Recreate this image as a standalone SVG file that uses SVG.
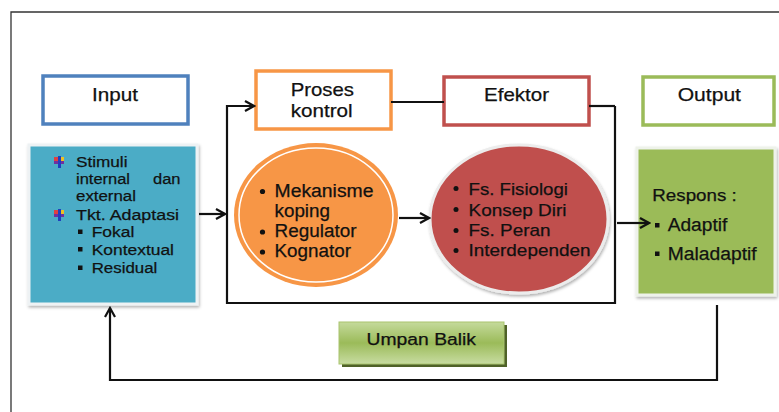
<svg xmlns="http://www.w3.org/2000/svg" width="779" height="412" viewBox="0 0 779 412">
<defs>
<style>
text{font-family:"Liberation Sans",Arial,sans-serif;fill:#111;stroke:#111;stroke-width:0.25}
.hdr{fill:#fff;stroke-width:3.5}
.t19{font-size:19px}
.t15{font-size:15.5px}
.t18{font-size:18px}
.t17{font-size:17px}
.t16{font-size:16px}
.conn{fill:none;stroke:#111;stroke-width:2.2}
</style>
<marker id="arr" markerWidth="12" markerHeight="12" refX="10" refY="6" orient="auto" markerUnits="userSpaceOnUse">
<path d="M1,1 L10,6 L1,11" fill="none" stroke="#111" stroke-width="2.2"/>
</marker>
<linearGradient id="gbtn" x1="0" y1="0" x2="0" y2="1">
<stop offset="0" stop-color="#c5da9c"/>
<stop offset="0.5" stop-color="#9bbb59"/>
<stop offset="1" stop-color="#c8dca2"/>
</linearGradient>
<filter id="sh" x="-10%" y="-10%" width="130%" height="130%">
<feDropShadow dx="1" dy="2" stdDeviation="1.5" flood-color="#000" flood-opacity="0.3"/>
</filter>
<g id="ico">
<rect x="-5" y="-1" width="10" height="3" fill="#7030a0"/>
<rect x="-1" y="-6" width="3" height="12" fill="#1f3fbf"/>
<rect x="-5" y="-5" width="4" height="4" fill="#e04040"/>
<rect x="2" y="-5" width="3" height="4" fill="#f0c020"/>
</g>
</defs>
<rect width="779" height="412" fill="#fff"/>
<path d="M11,412 V12 H779" fill="none" stroke="#333" stroke-width="1.3"/>

<g id="input">
<rect class="hdr" x="43" y="76" width="145" height="48" stroke="#4f81bd"/>
<text class="t19" x="92" y="101" textLength="46" lengthAdjust="spacingAndGlyphs">Input</text>
</g>

<g id="proses-kontrol">
<rect class="hdr" x="256" y="71" width="135" height="58" stroke="#f79646"/>
<text class="t19" x="290.7" y="95.7" textLength="63.3" lengthAdjust="spacingAndGlyphs">Proses</text>
<text class="t19" x="290.7" y="116.7" textLength="62" lengthAdjust="spacingAndGlyphs">kontrol</text>
</g>

<g id="efektor">
<rect class="hdr" x="444" y="77" width="145" height="48" stroke="#c0504d"/>
<text class="t19" x="484" y="100.7" textLength="65" lengthAdjust="spacingAndGlyphs">Efektor</text>
</g>

<g id="output">
<rect class="hdr" x="643" y="77" width="131" height="48" stroke="#9bbb59"/>
<text class="t19" x="677.7" y="100.7" textLength="63.3" lengthAdjust="spacingAndGlyphs">Output</text>
</g>

<g id="input-panel">
<rect x="29" y="145" width="168" height="159" fill="#4bacc6" stroke="#eef2f4" stroke-width="3" filter="url(#sh)"/>
<use href="#ico" x="59" y="162"/>
<text class="t15" x="76" y="167" textLength="51.5" lengthAdjust="spacingAndGlyphs">Stimuli</text>
<text class="t15" x="76" y="184" textLength="54" lengthAdjust="spacingAndGlyphs">internal</text>
<text class="t15" x="153" y="184" textLength="27.5" lengthAdjust="spacingAndGlyphs">dan</text>
<text class="t15" x="76" y="201" textLength="60" lengthAdjust="spacingAndGlyphs">external</text>
<use href="#ico" x="59" y="215"/>
<text class="t15" x="76" y="219.5" textLength="103" lengthAdjust="spacingAndGlyphs">Tkt. Adaptasi</text>
<rect x="78" y="229.5" width="4.5" height="4.5" fill="#111"/>
<text class="t15" x="91.7" y="237.3" textLength="42.6" lengthAdjust="spacingAndGlyphs">Fokal</text>
<rect x="78" y="247" width="4.5" height="4.5" fill="#111"/>
<text class="t15" x="91.7" y="254.7" textLength="82.3" lengthAdjust="spacingAndGlyphs">Kontextual</text>
<rect x="78" y="265.5" width="4.5" height="4.5" fill="#111"/>
<text class="t15" x="91.7" y="273.3" textLength="65.6" lengthAdjust="spacingAndGlyphs">Residual</text>
</g>

<g id="mekanisme">
<ellipse cx="316" cy="215" rx="82" ry="72" fill="#f79646"/>
<ellipse cx="316" cy="215" rx="77" ry="67" fill="none" stroke="#fff" stroke-width="1.5"/>
<circle cx="262.5" cy="191.5" r="2.6" fill="#111"/>
<text class="t18" x="274.5" y="196.7" textLength="99" lengthAdjust="spacingAndGlyphs">Mekanisme</text>
<text class="t18" x="274.5" y="216.5" textLength="55.5" lengthAdjust="spacingAndGlyphs">koping</text>
<circle cx="262.5" cy="232" r="2.6" fill="#111"/>
<text class="t18" x="274.5" y="237" textLength="82" lengthAdjust="spacingAndGlyphs">Regulator</text>
<circle cx="262.5" cy="252" r="2.6" fill="#111"/>
<text class="t18" x="274.5" y="257" textLength="76.5" lengthAdjust="spacingAndGlyphs">Kognator</text>
</g>

<g id="fungsi">
<ellipse cx="519" cy="219" rx="89" ry="74" fill="#c0504d" stroke="#ececec" stroke-width="3" filter="url(#sh)"/>
<circle cx="456" cy="188.5" r="2.5" fill="#111"/>
<text class="t17" x="468.5" y="195" textLength="99.5" lengthAdjust="spacingAndGlyphs">Fs. Fisiologi</text>
<circle cx="456" cy="209.5" r="2.5" fill="#111"/>
<text class="t17" x="468.5" y="215.5" textLength="98" lengthAdjust="spacingAndGlyphs">Konsep Diri</text>
<circle cx="456" cy="230.5" r="2.5" fill="#111"/>
<text class="t17" x="468.5" y="236" textLength="82" lengthAdjust="spacingAndGlyphs">Fs. Peran</text>
<circle cx="456" cy="250.5" r="2.5" fill="#111"/>
<text class="t17" x="468.5" y="256" textLength="122" lengthAdjust="spacingAndGlyphs">Interdependen</text>
</g>

<g id="respons">
<rect x="637" y="148" width="138" height="147" fill="#9bbb59" stroke="#eef2ea" stroke-width="3" filter="url(#sh)"/>
<text class="t16" x="652.3" y="201" textLength="84.4" lengthAdjust="spacingAndGlyphs">Respons :</text>
<rect x="655" y="223" width="4.5" height="4.5" fill="#111"/>
<text class="t18" x="667.7" y="231" textLength="59.6" lengthAdjust="spacingAndGlyphs">Adaptif</text>
<rect x="655" y="251.5" width="4.5" height="4.5" fill="#111"/>
<text class="t18" x="667.7" y="260" textLength="89" lengthAdjust="spacingAndGlyphs">Maladaptif</text>
</g>

<g id="umpan-balik">
<rect x="342" y="325" width="165" height="42" fill="#4f6228"/>
<rect x="339" y="322" width="165" height="42" fill="url(#gbtn)" stroke="#a9c46f" stroke-width="1"/>
<text class="t16" x="366.6" y="345" textLength="109.4" lengthAdjust="spacingAndGlyphs">Umpan Balik</text>
</g>

<g id="connectors">
<path class="conn" d="M615,106 V303 H227 V106 H254" marker-end="url(#arr)"/>
<line class="conn" x1="391" y1="102" x2="444" y2="102"/>
<line class="conn" x1="589" y1="106" x2="615" y2="106"/>
<line class="conn" x1="199" y1="214" x2="225" y2="214" marker-end="url(#arr)"/>
<line class="conn" x1="399" y1="218" x2="429" y2="218" marker-end="url(#arr)"/>
<line class="conn" x1="617" y1="223" x2="649" y2="223" marker-end="url(#arr)"/>
<path class="conn" d="M717,305 V380 H110 V308" marker-end="url(#arr)"/>
</g>
</svg>
